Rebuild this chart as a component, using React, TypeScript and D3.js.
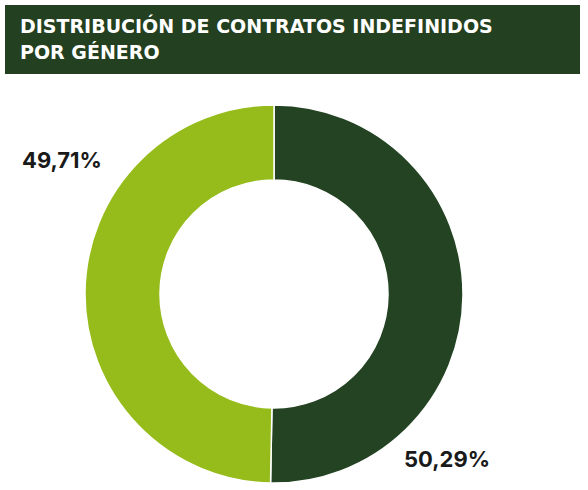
import React from "react";
import * as d3 from "d3";

const categories = ["Hombres", "Mujeres"];
const values = [50.29, 49.71];
const labels = ["50,29%", "49,71%"];
const colors = ["#234323", "#95bc1a"];
const titleLines = ["DISTRIBUCIÓN DE CONTRATOS INDEFINIDOS", "POR GÉNERO"];

const W = 588;
const H = 490;
const cx = 274;
const cy = 294;
const outerR = 189;
const innerR = 114;

export default function App() {
  const pie = d3
    .pie<number>()
    .sort(null)
    .value((d) => d);
  const arcs = pie(values);
  const arc = d3.arc<d3.PieArcDatum<number>>().innerRadius(innerR).outerRadius(outerR);

  const labelPos = [
    { x: 404, y: 467, anchor: "start" },
    { x: 22, y: 168, anchor: "start" },
  ];

  return (
    <svg
      width={W}
      height={H}
      style={{ position: "absolute", left: 0, top: 0, background: "#fff" }}
      fontFamily="Inter, 'Open Sans', sans-serif"
    >
      <rect x={5} y={5} width={575} height={69} fill="#234020" />
      {titleLines.map((t, i) => (
        <text
          key={i}
          x={20}
          y={33 + i * 26}
          fill="#fff"
          fontSize={19}
          fontWeight={700}
          fontFamily="'DejaVu Sans', sans-serif"
        >
          {t}
        </text>
      ))}
      <g transform={`translate(${cx},${cy})`}>
        {arcs.map((a, i) => (
          <path
            key={categories[i]}
            d={arc(a) || ""}
            fill={colors[i]}
            stroke="#fff"
            strokeWidth={1.5}
          />
        ))}
      </g>
      {labels.map((l, i) => (
        <text
          key={l}
          x={labelPos[i].x}
          y={labelPos[i].y}
          textAnchor={labelPos[i].anchor as any}
          fontSize={22}
          fontWeight={700}
          fill="#1a1a1a"
        >
          {l}
        </text>
      ))}
    </svg>
  );
}
